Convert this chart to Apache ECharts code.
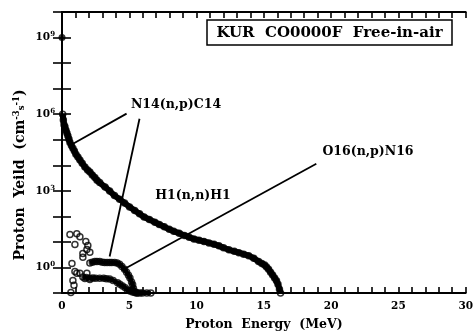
<!DOCTYPE html>
<html>
<head>
<meta charset="utf-8">
<script src="https://cdn.jsdelivr.net/npm/echarts@6/dist/echarts.min.js"></script>
<style>
  html, body { margin: 0; padding: 0; background: #fff; }
  #chart { width: 476px; height: 336px; }
</style>
</head>
<body>
<div id="chart"></div>
<script>
// Proton yield spectra, free-in-air measurement (energy in MeV, yield in cm^-3 s^-1)
const h1Energy = [0.05, 0.1, 0.15, 0.22, 0.3, 0.37, 0.44, 0.52, 0.59, 0.7, 0.81, 0.92, 1.03, 1.18, 1.33, 1.5, 1.7, 1.9, 2.07, 2.25, 2.44, 2.6, 2.8, 3.2, 3.54, 3.9, 4.28, 4.65, 5.02, 5.4, 5.76, 6.1, 6.49, 6.9, 7.23, 7.6, 7.97, 8.3, 8.71, 9.1, 9.45, 9.8, 10.18, 10.55, 10.92, 11.3, 11.66, 12.0, 12.4, 12.8, 13.14, 13.5, 13.87, 14.25, 14.61, 14.85, 15.06, 15.2, 15.35, 15.5, 15.65, 15.8, 15.94, 16.05, 16.16, 16.24];
const h1Yield  = [1.0e6, 5.9e5, 3.9e5, 3.2e5, 2.3e5, 1.8e5, 1.4e5, 1.04e5, 7.8e4, 5.9e4, 4.6e4, 3.6e4, 2.7e4, 2.1e4, 1.6e4, 1.2e4, 8.5e3, 6.5e3, 5.5e3, 4.2e3, 3.3e3, 2.6e3, 2.1e3, 1.4e3, 980, 650, 470, 330, 235, 170, 127, 94, 75, 59, 48, 39, 31, 26, 22, 18, 15.3, 13, 11.7, 10.4, 9.1, 8.1, 7.0, 5.9, 4.9, 4.3, 3.8, 3.3, 2.9, 2.3, 1.7, 1.43, 1.24, 1.04, 0.85, 0.65, 0.51, 0.39, 0.3, 0.22, 0.14, 0.1];

const n14Energy = [2.07, 2.25, 2.44, 2.6, 2.8, 3.0, 3.17, 3.35, 3.54, 3.7, 3.91, 4.1, 4.28, 4.45, 4.65, 4.8, 4.94, 5.05, 5.17, 5.25, 5.31, 5.45, 5.54];
const n14Yield  = [1.5, 1.6, 1.7, 1.7, 1.7, 1.6, 1.55, 1.55, 1.55, 1.55, 1.55, 1.5, 1.35, 1.1, 0.85, 0.65, 0.5, 0.39, 0.27, 0.21, 0.15, 0.11, 0.1];

const o16Energy = [1.55, 1.8, 2.07, 2.3, 2.5, 2.8, 3.1, 3.3, 3.54, 3.8, 4.13, 4.3, 4.5, 4.7, 4.87, 5.05, 5.24, 5.4, 5.61, 5.8, 5.98, 6.3, 6.6];
const o16Yield  = [0.42, 0.4, 0.38, 0.39, 0.38, 0.38, 0.38, 0.36, 0.35, 0.31, 0.25, 0.22, 0.19, 0.16, 0.13, 0.12, 0.11, 0.105, 0.1, 0.1, 0.1, 0.1, 0.1];

// Low-energy points below 2 MeV
const lowEnergy = [0.59, 1.1, 1.33, 0.96, 1.77, 1.92, 1.85, 1.55, 1.55, 2.07, 0.74, 0.96, 1.1, 0.81, 0.89, 0.66, 1.33, 1.85, 1.7, 2.07];
const lowYield  = [19.5, 21, 16, 7.9, 10.4, 7.2, 5.0, 3.5, 2.5, 3.9, 1.43, 0.7, 0.59, 0.31, 0.2, 0.105, 0.59, 0.59, 0.37, 0.34];

// Single point on the axis at zero energy
const zeroPoint = [[0, 1e9]];

// Leader lines from the reaction labels to the curves
const n14LeaderA = [[4.80, 1.05e6], [0.59, 5.9e4]];
const n14LeaderB = [[5.76, 6.6e5], [3.54, 2.7]];
const o16Leader  = [[18.9, 1.15e4], [4.43, 0.76]];

const xTicks = [0, 5, 10, 15, 20, 25, 30];
const yLabelExponents = [0, 3, 6, 9];

const serif = '"DejaVu Serif", "Liberation Serif", serif';
const zip = (a, b) => a.map((v, i) => [v, b[i]]);

const chart = echarts.init(document.getElementById('chart'), null, { renderer: 'canvas' });

const openCircle = {
  color: 'rgba(0,0,0,0)',
  borderColor: '#000',
  borderWidth: 1.5
};

function curve(name, data, width) {
  return [
    {
      name: name + ' band',
      type: 'line',
      data: data,
      showSymbol: false,
      lineStyle: { color: '#000', width: width },
      silent: true,
      z: 2
    },
    {
      name: name,
      type: 'scatter',
      data: data,
      symbol: 'circle',
      symbolSize: 6,
      itemStyle: openCircle,
      z: 3
    }
  ];
}

function leader(data) {
  return {
    type: 'line',
    data: data,
    showSymbol: false,
    lineStyle: { color: '#000', width: 1.8 },
    silent: true,
    clip: false,
    z: 4
  };
}

const axisLineStyle = { lineStyle: { color: '#000', width: 2 } };
const xTickStyle = { inside: true, length: 6, lineStyle: { color: '#000', width: 1.6 } };
const yTickStyle = { inside: true, length: 9, lineStyle: { color: '#000', width: 1.6 } };

chart.setOption({
  animation: false,
  backgroundColor: '#fff',
  grid: { left: 62, right: 7, top: 12, bottom: 35 },
  xAxis: [
    {
      type: 'value', min: 0, max: 30, interval: 1, position: 'bottom',
      axisLine: axisLineStyle,
      axisTick: xTickStyle,
      splitLine: { show: false },
      axisLabel: {
        interval: 0, margin: 8,
        color: '#000', fontFamily: serif, fontWeight: 'bold', fontSize: 10.5,
        formatter: v => (xTicks.indexOf(v) >= 0 ? String(v) : '')
      },
      name: 'Proton  Energy  (MeV)', nameLocation: 'middle', nameGap: 25,
      nameTextStyle: { color: '#000', fontFamily: serif, fontWeight: 'bold', fontSize: 12.5 }
    },
    {
      type: 'value', min: 0, max: 30, interval: 1, position: 'top',
      axisLine: axisLineStyle,
      axisTick: xTickStyle,
      axisLabel: { show: false },
      splitLine: { show: false }
    }
  ],
  yAxis: [
    {
      type: 'log', logBase: 10, min: 0.1, max: 1e10, interval: 1,
      axisLine: axisLineStyle,
      axisTick: yTickStyle,
      splitLine: { show: false },
      axisLabel: {
        color: '#000', fontFamily: serif, fontWeight: 'bold', fontSize: 10.5, margin: 7,
        formatter: v => {
          const e = Math.round(Math.log10(v));
          return yLabelExponents.indexOf(e) >= 0 ? '10{s|' + e + '}' : '';
        },
        rich: {
          s: { fontFamily: serif, fontWeight: 'bold', fontSize: 7, padding: [0, 0, 6, 0] }
        }
      }
    },
    {
      type: 'log', logBase: 10, min: 0.1, max: 1e10, interval: 1, position: 'right',
      axisLine: axisLineStyle,
      axisTick: yTickStyle,
      axisLabel: { show: false },
      splitLine: { show: false }
    }
  ],
  series: [
    ...curve('H1(n,n)H1', zip(h1Energy, h1Yield), 6),
    ...curve('N14(n,p)C14', zip(n14Energy, n14Yield), 4.5),
    ...curve('O16(n,p)N16', zip(o16Energy, o16Yield), 4.5),
    {
      name: 'low energy',
      type: 'scatter',
      data: zip(lowEnergy, lowYield),
      symbolSize: 6,
      itemStyle: openCircle,
      z: 3
    },
    {
      name: 'zero',
      type: 'scatter',
      data: zeroPoint,
      symbolSize: 7,
      itemStyle: { color: '#000' },
      clip: false,
      z: 5
    },
    leader(n14LeaderA),
    leader(n14LeaderB),
    leader(o16Leader)
  ],
  graphic: [
    {
      type: 'rect',
      shape: { x: 207, y: 20, width: 245, height: 25 },
      style: { fill: '#fff', stroke: '#000', lineWidth: 1.5 },
      z: 10
    },
    {
      type: 'text', x: 329.5, y: 33,
      style: {
        text: 'KUR  CO0000F  Free-in-air',
        fontFamily: serif, fontWeight: 'bold', fontSize: 15, fill: '#000',
        align: 'center', verticalAlign: 'middle'
      },
      z: 11
    },
    {
      type: 'text', x: 176, y: 105,
      style: {
        text: 'N14(n,p)C14', fontFamily: serif, fontWeight: 'bold', fontSize: 12.5, fill: '#000',
        align: 'center', verticalAlign: 'middle'
      },
      z: 11
    },
    {
      type: 'text', x: 193, y: 196,
      style: {
        text: 'H1(n,n)H1', fontFamily: serif, fontWeight: 'bold', fontSize: 12.5, fill: '#000',
        align: 'center', verticalAlign: 'middle'
      },
      z: 11
    },
    {
      type: 'text', x: 368, y: 152,
      style: {
        text: 'O16(n,p)N16', fontFamily: serif, fontWeight: 'bold', fontSize: 12.5, fill: '#000',
        align: 'center', verticalAlign: 'middle'
      },
      z: 11
    },
    {
      type: 'text', x: 20, y: 175, rotation: Math.PI / 2,
      style: {
        text: 'Proton  Yeild  (cm{sup|-3}{sub|s}{sup|-1})',
        fontFamily: serif, fontWeight: 'bold', fontSize: 14, fill: '#000',
        align: 'center', verticalAlign: 'middle',
        rich: {
          sup: { fontFamily: serif, fontWeight: 'bold', fontSize: 8.5, padding: [0, 0, 7, 0] },
          sub: { fontFamily: serif, fontWeight: 'bold', fontSize: 8.5, padding: [4, 0, 0, 0] }
        }
      },
      z: 11
    }
  ]
});
</script>
</body>
</html>
